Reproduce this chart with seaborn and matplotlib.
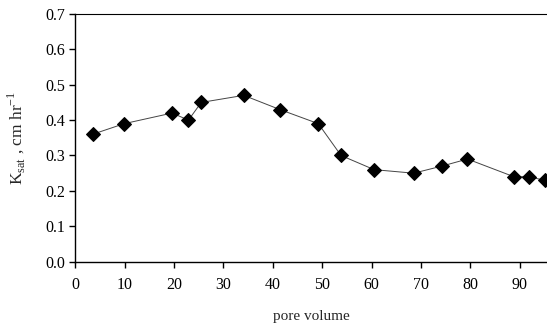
import numpy as np
import pandas as pd
import matplotlib.pyplot as plt
import seaborn as sns

# values
pore_volume = [3.5, 9.9, 19.6, 22.9, 25.5, 34.1, 41.4, 49.2, 53.8, 60.5, 68.5, 74.2, 79.4, 88.8, 91.8, 95.0]
ksat = [0.36, 0.39, 0.42, 0.40, 0.45, 0.47, 0.43, 0.39, 0.30, 0.26, 0.25, 0.27, 0.29, 0.24, 0.24, 0.23]
y_ticks = [0.0, 0.1, 0.2, 0.3, 0.4, 0.5, 0.6, 0.7]
x_ticks = [0, 10, 20, 30, 40, 50, 60, 70, 80, 90]

df = pd.DataFrame({"pore volume": pore_volume, "Ksat": ksat})

sns.set_style("ticks")
plt.rcParams["font.family"] = ["Liberation Serif", "DejaVu Serif"]
plt.rcParams["mathtext.fontset"] = "custom"
plt.rcParams["mathtext.rm"] = "Liberation Serif"

fig = plt.figure(figsize=(5.47, 3.23), dpi=100)
ax = fig.add_axes([0.1377, 0.19, 0.8623, 0.7667])

sns.lineplot(data=df, x="pore volume", y="Ksat", ax=ax, color="#444444", linewidth=0.7,
             marker="D", markersize=7, markerfacecolor="black", markeredgecolor="black")

ax.set_xlim(0, 95.5)
ax.set_ylim(0, 0.7)
ax.set_xticks(x_ticks)
ax.set_yticks(y_ticks)
ax.set_yticklabels([f"{v:.1f}" for v in y_ticks])
ax.tick_params(labelsize=11.5, length=4, width=1, color="black", labelcolor="black")
ax.tick_params(axis="x", pad=7)

ax.spines["right"].set_visible(False)
for s in ["left", "bottom", "top"]:
    ax.spines[s].set_color("black")
    ax.spines[s].set_linewidth(1)
ax.spines["top"].set_linewidth(0.8)

ax.set_xlabel("pore volume", fontsize=11, labelpad=12)
ax.set_ylabel(r"K$_{\mathrm{sat}}$ , cm hr$^{\mathrm{-1}}$", fontsize=12.5, labelpad=12)

fig.savefig("out.png", dpi=100)
